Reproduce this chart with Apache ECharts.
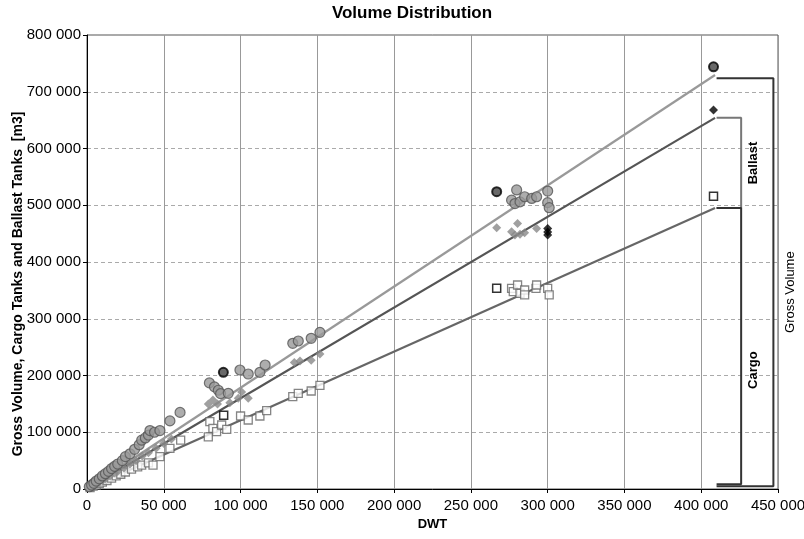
<!DOCTYPE html>
<html><head><meta charset="utf-8">
<script src="https://cdn.jsdelivr.net/npm/echarts@6/dist/echarts.min.js"></script>
<style>html,body{margin:0;padding:0;background:#fff}#c{width:804px;height:539px}</style>
</head><body><div id="c"></div>
<script>
// ---- data ----
const grossDwt = [1500,3000,4500,6000,8000,10000,12000,14000,16000,18000,20000,23000,25000,28000,31000,34000,35600,38000,40000,41000,44000,47500,54000,60600,79700,83000,85500,87000,92000,99600,105000,112600,116000,134000,137600,146000,151700,276500,278700,279800,282000,285000,289600,292800,300000,300000,301000];
const grossVol = [4000,7000,10000,14000,18000,23000,27000,31000,36000,40000,44000,50000,57000,62000,70000,78000,86000,90000,95000,103000,100000,103000,120000,135000,187000,180000,174000,168000,168600,209700,202600,205600,218500,256700,260800,265500,276000,509000,503000,527000,506000,515000,512000,515000,525000,504600,495700];
const grossHiDwt = [88800,266800,408000];
const grossHiVol = [205600,524000,744000];

const cbDwt = [2000,4000,6000,8000,10000,12000,15000,18000,20000,24000,28000,32000,36000,40000,45000,50000,55000,79000,82000,85000,93000,98500,100700,105000,135000,138700,146000,151700,266800,276500,278700,280400,282000,285000,292800];
const cbVol = [3000,6000,9000,12000,15000,18000,23000,28000,31000,37000,44000,50000,58000,64000,72000,80000,88000,150000,157000,150000,152000,160000,171000,160000,223000,225500,227000,238000,460500,453400,447600,468000,449000,451600,459000];
const cbHiDwt = [300000,300000,300000,408000];
const cbHiVol = [459000,453000,447600,668000];

const cargoDwt = [2000,4000,6000,8000,10000,13000,16000,19000,22000,25000,29000,33000,35600,40000,43000,47500,54000,61000,79000,80000,82000,84400,87700,91000,100000,105000,112600,117000,134000,137600,146000,151700,276500,277600,280400,282000,285000,285000,292400,292800,300000,301000];
const cargoVol = [2500,5000,7000,9500,12000,15000,19000,23000,26000,30000,35000,39000,42000,46000,42000,57000,71700,86000,92000,118600,107000,101000,112800,105000,128600,121600,128600,138000,162600,168600,172700,182700,353600,347700,359500,344800,350700,341900,353600,359500,353600,341900];
const cargoHiDwt = [89000,266800,408000];
const cargoHiVol = [130000,353600,516000];

// trend lines (endpoints)
const trendDwt = [0,409000];
const grossTrend = [0,729500];
const cbTrend = [0,654000];
const cargoTrend = [0,495000];

// bracket annotations (data units)
const bracketX = [410000,426000,447000];
const bracketY = {gross:[724000,5000], ballast:[654000,495000], cargo:[495000,8500]};

const xTicks = [0,50000,100000,150000,200000,250000,300000,350000,400000,450000];
const yTicks = [0,100000,200000,300000,400000,500000,600000,700000,800000];

// ---- chart ----
const zip = (a,b)=>a.map((v,i)=>[v,b[i]]);
const fmt = v => String(v).replace(/\B(?=(\d{3})+(?!\d))/g,' ');
const FONT = '"Liberation Sans Narrow", "Arial Narrow", "Liberation Sans", Arial, sans-serif';
const FONTW = '"Liberation Sans", Arial, sans-serif';

const chart = echarts.init(document.getElementById('c'), null, {renderer:'canvas'});
const line = (data,color,w)=>({type:'line',data,symbol:'none',lineStyle:{color,width:w},silent:true,animation:false,z:3});
const option = {
  animation:false,
  backgroundColor:'#fff',
  grid:{left:87,right:26,top:35,bottom:50,show:true,borderColor:'#555',borderWidth:1,containLabel:false,outerBoundsMode:'none'},
  xAxis:{type:'value',min:xTicks[0],max:xTicks[xTicks.length-1],interval:50000,
    name:'DWT',nameLocation:'middle',nameGap:23,
    nameTextStyle:{fontFamily:FONTW,fontWeight:'bold',fontSize:13,color:'#000'},
    axisLine:{lineStyle:{color:'#000'}},axisTick:{show:true,length:4,lineStyle:{color:'#000'}},
    axisLabel:{formatter:fmt,fontFamily:FONT,fontSize:15,color:'#000',margin:9},
    splitLine:{show:true,lineStyle:{color:'#999',width:1}}},
  yAxis:{type:'value',min:yTicks[0],max:yTicks[yTicks.length-1],interval:100000,
    axisLine:{lineStyle:{color:'#000'}},axisTick:{show:true,length:4,lineStyle:{color:'#000'}},
    axisLabel:{formatter:fmt,fontFamily:FONT,fontSize:15,color:'#000',margin:6},
    splitLine:{show:true,lineStyle:{color:'#aaa',width:1,type:[4,3]}}},
  series:[
    {type:'scatter',data:zip(cargoDwt,cargoVol),symbol:'rect',symbolSize:8,itemStyle:{color:'#fff',borderColor:'#666',borderWidth:1.3},z:4},
    {type:'scatter',data:zip(cbDwt,cbVol),symbol:'diamond',symbolSize:9,itemStyle:{color:'#888',borderColor:'#888',borderWidth:0},z:4},
    {type:'scatter',data:zip(grossDwt,grossVol),symbol:'circle',symbolSize:10,itemStyle:{color:'#999',borderColor:'#555',borderWidth:1.2},z:4},
    line(zip(trendDwt,cargoTrend),'#666',2.2),
    line(zip(trendDwt,cbTrend),'#555',2.2),
    line(zip(trendDwt,grossTrend),'#999',2.2),
    {type:'scatter',data:zip(cargoHiDwt,cargoHiVol),symbol:'rect',symbolSize:8,itemStyle:{color:'#fff',borderColor:'#000',borderWidth:1.5},z:6},
    {type:'scatter',data:zip(cbHiDwt,cbHiVol),symbol:'diamond',symbolSize:9,itemStyle:{color:'#000'},z:6},
    {type:'scatter',data:zip(grossHiDwt,grossHiVol),symbol:'circle',symbolSize:9,itemStyle:{color:'#444',borderColor:'#000',borderWidth:2},z:6},
    line([[bracketX[0],bracketY.gross[0]],[bracketX[2],bracketY.gross[0]],[bracketX[2],bracketY.gross[1]],[bracketX[0],bracketY.gross[1]]],'#333',2),
    line([[bracketX[0],bracketY.ballast[0]],[bracketX[1],bracketY.ballast[0]],[bracketX[1],bracketY.ballast[1]],[bracketX[0],bracketY.ballast[1]]],'#777',2),
    line([[bracketX[0],bracketY.cargo[0]],[bracketX[1],bracketY.cargo[0]],[bracketX[1],bracketY.cargo[1]],[bracketX[0],bracketY.cargo[1]]],'#333',2)
  ]
};
chart.setOption(option);

const p = (x,y)=>chart.convertToPixel({gridIndex:0},[x,y]);
const bx = p(bracketX[1],0)[0], gx = p(bracketX[2],0)[0];
const ballMid = p(0,(bracketY.ballast[0]+bracketY.ballast[1])/2)[1];
const cargoMid = p(0,(bracketY.cargo[0]+bracketY.cargo[1])/2)[1];
const grossMid = p(0,(bracketY.gross[0]+bracketY.gross[1])/2)[1];
chart.setOption({graphic:[
  {type:'text',x:412,y:13,style:{text:'Volume Distribution',font:'bold 17px '+FONTW,fill:'#000',textAlign:'center',textVerticalAlign:'middle'}},
  {type:'text',x:18,y:284,rotation:Math.PI/2,style:{text:'Gross Volume, Cargo Tanks and Ballast Tanks  [m3]',font:'bold 14px '+FONTW,fill:'#000',textAlign:'center',textVerticalAlign:'middle'}},
  {type:'text',x:bx+12,y:ballMid,rotation:Math.PI/2,style:{text:'Ballast',font:'bold 13px '+FONTW,fill:'#000',textAlign:'center',textVerticalAlign:'middle'}},
  {type:'text',x:bx+12,y:cargoMid+24,rotation:Math.PI/2,style:{text:'Cargo',font:'bold 13px '+FONTW,fill:'#000',textAlign:'center',textVerticalAlign:'middle'}},
  {type:'text',x:gx+17,y:grossMid+10,rotation:Math.PI/2,style:{text:'Gross Volume',font:'13px '+FONTW,fill:'#000',textAlign:'center',textVerticalAlign:'middle'}}
]});
</script></body></html>
